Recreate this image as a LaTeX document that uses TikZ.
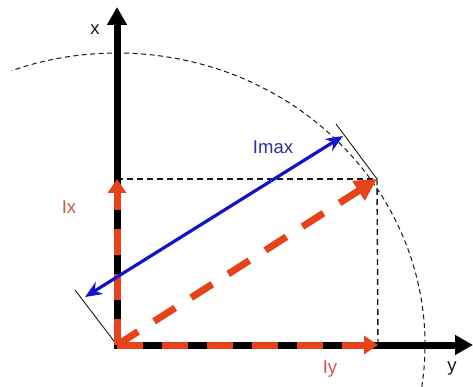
\documentclass[tikz,border=0pt]{standalone}
\usepackage{fontspec}
\setmainfont{Liberation Sans}
\usetikzlibrary{arrows.meta}
\definecolor{vred}{RGB}{232,66,26}
\definecolor{vblue}{RGB}{18,18,205}
\definecolor{lred}{RGB}{205,88,62}
\definecolor{lblue}{RGB}{45,45,165}
\definecolor{ink}{RGB}{25,25,25}
\begin{document}
\begin{tikzpicture}[x=1pt,y=-1pt,
  arcline/.style={ink,line width=1pt,dash pattern=on 5pt off 3.5pt},
  projline/.style={ink,line width=1.4pt,dash pattern=on 6pt off 4pt},
  tanline/.style={ink,line width=0.9pt},
  axisline/.style={black,line width=7pt,-{Triangle[length=18pt,width=19pt]}},
  compvec/.style={vred,line width=7pt,dash pattern=on 26pt off 19pt,-{Triangle[length=14pt,width=18pt]}},
  resvec/.style={vred,line width=7pt,dash pattern=on 25pt off 19pt,-{Triangle[length=22pt,width=22pt]}},
  maxvec/.style={vblue,line width=3.2pt,{Stealth[length=17pt,width=14pt]}-{Stealth[length=17pt,width=14pt]}},
  lab/.style={inner sep=0pt,font=\fontsize{18.5}{22}\selectfont}]
\useasboundingbox (0,0) rectangle (473,387);
% key points
\coordinate (O) at (117,345);
\coordinate (P) at (377,179);
\coordinate (Xtip) at (117,7);
\coordinate (Ytip) at (473,345);
\coordinate (Xbase) at (117,348.5);
\coordinate (Ybase) at (113.5,345);
\coordinate (Xp) at (117,179);
\coordinate (Yp) at (378,345);
\coordinate (A) at (343,136);
\coordinate (B) at (85,297);
\coordinate (T1) at (336,124);
\coordinate (T2) at (75,290);
% dashed ellipse arc
\draw[arcline] (O) ++(8.3:308 and 292) arc[start angle=8.3,end angle=-110,x radius=308,y radius=292];
% projection lines
\draw[projline] (Xp) -- (P);
\draw[projline] (P) -- (Yp);
% tangent lines
\draw[tanline] (T1) -- (P);
\draw[tanline] (T2) -- (O);
% axes
\draw[axisline] (Ybase) -- (Ytip);
\draw[axisline] (Xbase) -- (Xtip);
% components
\draw[compvec] (O) -- (Xp);
\draw[compvec] (O) -- (Yp);
% resultant
\draw[resvec] (O) -- (P);
% Imax
\draw[maxvec] (B) -- (A);
% labels
\node[lab,ink] (xl) at (95,30) {x};
\node[lab,ink] (yl) at (452,369) {y};
\node[lab,lred] (ixl) at (69,207) {Ix};
\node[lab,lred] (iyl) at (330,369) {Iy};
\node[lab,lblue] (imaxl) at (273,147) {Imax};
\end{tikzpicture}
\end{document}
